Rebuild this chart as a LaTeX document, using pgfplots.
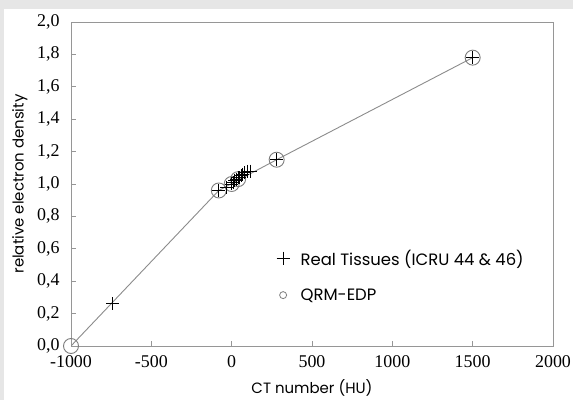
\documentclass[border=0pt]{standalone}
\usepackage{fontspec}
\setmainfont{Liberation Serif}
\newfontfamily\labelfont{Poppins}
\usepackage{pgfplots}
\pgfplotsset{compat=1.18}
\definecolor{bggrey}{RGB}{230,230,230}
\definecolor{framegrey}{RGB}{150,150,150}
\definecolor{linegrey}{RGB}{140,140,140}
\definecolor{circgrey}{RGB}{125,125,125}
\begin{document}
\begin{tikzpicture}
% background panel
\fill[bggrey] (-71bp,-54bp) rectangle (502bp,346bp);
\fill[white] (-67bp,-54bp) rectangle (502bp,337bp);
\begin{axis}[
    scale only axis,
    width=482bp, height=324bp,
    xmin=-1000, xmax=2000,
    ymin=0, ymax=2,
    xtick={-1000,-500,0,500,1000,1500,2000},
    ytick={0,0.2,0.4,0.6,0.8,1.0,1.2,1.4,1.6,1.8,2.0},
    xtick pos=bottom, ytick pos=left,
    tick align=inside,
    major tick length=5bp,
    axis line style={framegrey, line width=0.9bp},
    tick style={framegrey, line width=0.8bp},
    /pgf/number format/assume math mode=true,
    ticklabel style={font=\fontsize{18}{20}\selectfont},
    yticklabel style={xshift=-8bp, /pgf/number format/.cd, fixed, fixed zerofill, precision=1, use comma},
    xticklabel style={yshift=-6bp, /pgf/number format/.cd, 1000 sep={}},
    scaled ticks=false,
    every axis y label/.style={at={(axis description cs:-0.106,0.5)}, rotate=90, anchor=center},
    every axis x label/.style={at={(axis description cs:0.5,-0.13)}, anchor=center},
    xlabel={\labelfont\fontsize{15}{17}\selectfont CT number (HU)},
    ylabel={\labelfont\fontsize{15}{17}\selectfont relative electron density},
    legend style={draw=none, fill=none, at={(axis description cs:0.42,0.31)}, anchor=north west,
        font=\labelfont\fontsize{16.5}{18}\selectfont, row sep=18bp},
    legend cell align=left,
]
% calibration line
\addplot[linegrey, line width=0.9bp, forget plot] coordinates {
    (-1000,0) (-80,0.96) (280,1.15) (1500,1.78)};
% QRM-EDP inserts
\addplot[only marks, mark=o, mark size=7.5bp, circgrey, line width=0.9bp, forget plot] coordinates {
    (-1000,0) (-80,0.96) (0,1.00) (40,1.03) (280,1.15) (1500,1.78)};
% real tissues
\addplot[only marks, mark=+, mark size=6.5bp, black, line width=0.9bp] coordinates {
    (-740,0.26) (-80,0.96) (-30,0.98) (0,1.00) (10,1.01) (20,1.02) (30,1.03)
    (40,1.04) (50,1.04) (60,1.05) (70,1.06) (80,1.07) (100,1.08) (120,1.08)
    (280,1.15) (1500,1.78)};
\addlegendentry{\hspace*{9bp}Real Tissues (ICRU 44 \& 46)}
\addlegendimage{only marks, mark=o, mark size=3.5bp, circgrey, line width=0.8bp}
\addlegendentry{\hspace*{9bp}QRM-EDP}
\end{axis}
\pgfresetboundingbox
\useasboundingbox (-71bp,-54bp) rectangle (502bp,346bp);
\end{tikzpicture}
\end{document}
